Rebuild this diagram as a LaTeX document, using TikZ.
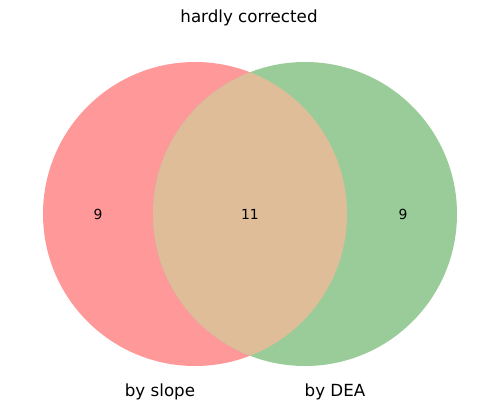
\documentclass[tikz,border=0pt]{standalone}
\usepackage{fontspec}
\setmainfont{DejaVu Sans}
\definecolor{setA}{RGB}{255,153,153}
\definecolor{setB}{RGB}{153,204,153}
\definecolor{setAB}{RGB}{224,189,153}
\begin{document}
\begin{tikzpicture}[x=1pt,y=-1pt,
  numlbl/.style={font=\fontsize{13.9}{16}\selectfont, inner sep=0pt},
  setlbl/.style={font=\fontsize{16.7}{19}\selectfont, inner sep=0pt, anchor=base},
  region/.style={draw=none}]
\useasboundingbox (0,0) rectangle (499,409);
\fill[setA] (195,214) circle (152);
\fill[setB] (305,214) circle (152);
\begin{scope}
  \clip (195,214) circle (152);
  \fill[setAB] (305,214) circle (152);
\end{scope}
\node[numlbl] (nA) at (98,214) {9};
\node[numlbl] (nAB) at (250,214) {11};
\node[numlbl] (nB) at (403,214) {9};
\node[setlbl] (lA) at (160,396.5) {by slope};
\node[setlbl] (lB) at (335,396.5) {by DEA};
\node[setlbl] (title) at (249,22.5) {hardly corrected};
\end{tikzpicture}
\end{document}
